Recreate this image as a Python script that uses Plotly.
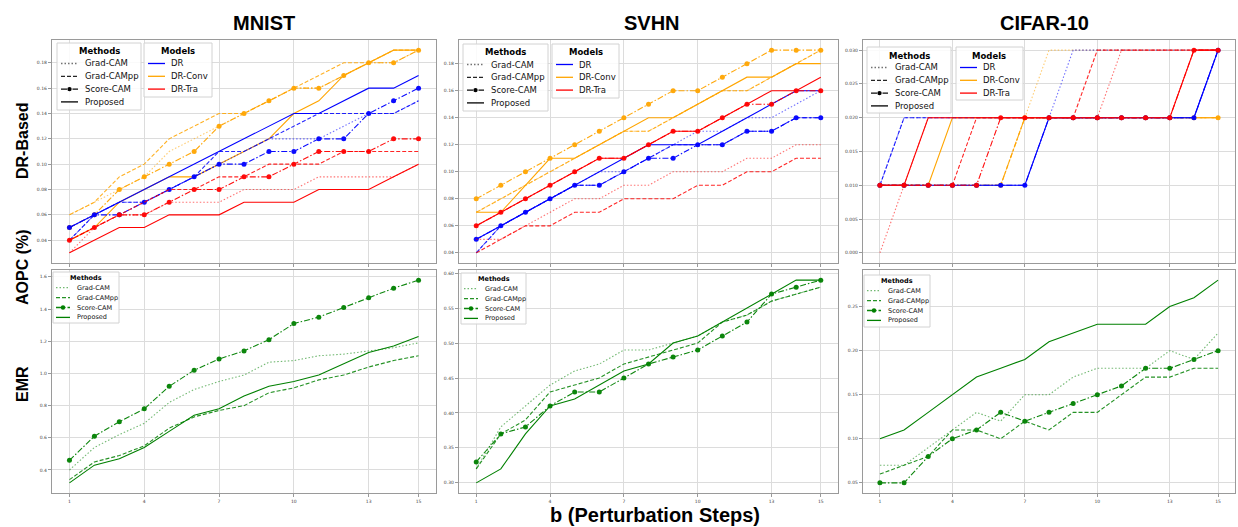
import plotly.graph_objects as go

W, H = 1238, 527

# ---------------- data ----------------
steps = list(range(1, 16))
x_tick_vals = [1, 4, 7, 10, 13, 15]
datasets = ["MNIST", "SVHN", "CIFAR-10"]
methods = ["Grad-CAM", "Grad-CAMpp", "Score-CAM", "Proposed"]
models = ["DR", "DR-Conv", "DR-Tra"]
row_labels = ["DR-Based", "AOPC (%)", "EMR"]
x_title = "b (Perturbation Steps)"

# AOPC of DR-based models (top row)
mnist_dr_gradcam = [0.04, 0.06, 0.07, 0.07, 0.08, 0.09, 0.10, 0.11, 0.12, 0.12, 0.12, 0.13, 0.14, 0.14, 0.15]
mnist_dr_gradcampp = [0.04, 0.06, 0.07, 0.07, 0.08, 0.09, 0.11, 0.11, 0.12, 0.13, 0.14, 0.14, 0.14, 0.14, 0.15]
mnist_dr_scorecam = [0.05, 0.06, 0.06, 0.07, 0.08, 0.09, 0.10, 0.10, 0.11, 0.11, 0.12, 0.12, 0.14, 0.15, 0.16]
mnist_dr_proposed = [0.05, 0.06, 0.07, 0.08, 0.09, 0.10, 0.11, 0.12, 0.13, 0.14, 0.14, 0.15, 0.16, 0.16, 0.17]
mnist_conv_gradcam = [0.06, 0.07, 0.08, 0.09, 0.11, 0.12, 0.13, 0.14, 0.15, 0.16, 0.16, 0.17, 0.18, 0.18, 0.19]
mnist_conv_gradcampp = [0.06, 0.07, 0.09, 0.10, 0.12, 0.13, 0.14, 0.14, 0.15, 0.16, 0.17, 0.18, 0.18, 0.19, 0.19]
mnist_conv_scorecam = [0.05, 0.06, 0.08, 0.09, 0.10, 0.11, 0.13, 0.14, 0.15, 0.16, 0.16, 0.17, 0.18, 0.18, 0.19]
mnist_conv_proposed = [0.04, 0.05, 0.07, 0.08, 0.09, 0.09, 0.10, 0.11, 0.12, 0.14, 0.15, 0.17, 0.18, 0.19, 0.19]
mnist_tra_gradcam = [0.03, 0.05, 0.06, 0.06, 0.07, 0.07, 0.07, 0.08, 0.08, 0.08, 0.09, 0.09, 0.09, 0.09, 0.10]
mnist_tra_gradcampp = [0.04, 0.05, 0.06, 0.07, 0.08, 0.08, 0.09, 0.09, 0.10, 0.10, 0.10, 0.11, 0.11, 0.11, 0.11]
mnist_tra_scorecam = [0.04, 0.05, 0.06, 0.06, 0.07, 0.08, 0.08, 0.09, 0.09, 0.10, 0.11, 0.11, 0.11, 0.12, 0.12]
mnist_tra_proposed = [0.03, 0.04, 0.05, 0.05, 0.06, 0.06, 0.06, 0.07, 0.07, 0.07, 0.08, 0.08, 0.08, 0.09, 0.10]

svhn_dr_gradcam = [0.04, 0.06, 0.07, 0.08, 0.09, 0.10, 0.10, 0.11, 0.12, 0.13, 0.13, 0.14, 0.14, 0.15, 0.16]
svhn_dr_gradcampp = [0.04, 0.06, 0.07, 0.08, 0.09, 0.09, 0.10, 0.11, 0.12, 0.12, 0.12, 0.13, 0.13, 0.14, 0.14]
svhn_dr_scorecam = [0.05, 0.06, 0.07, 0.08, 0.09, 0.09, 0.10, 0.11, 0.11, 0.12, 0.12, 0.13, 0.13, 0.14, 0.14]
svhn_dr_proposed = [0.05, 0.06, 0.07, 0.08, 0.09, 0.10, 0.11, 0.12, 0.12, 0.12, 0.13, 0.14, 0.15, 0.16, 0.16]
svhn_conv_gradcam = [0.07, 0.08, 0.09, 0.10, 0.11, 0.12, 0.13, 0.13, 0.14, 0.15, 0.16, 0.16, 0.17, 0.18, 0.19]
svhn_conv_gradcampp = [0.07, 0.08, 0.09, 0.10, 0.11, 0.12, 0.13, 0.13, 0.14, 0.15, 0.16, 0.16, 0.17, 0.18, 0.19]
svhn_conv_scorecam = [0.08, 0.09, 0.10, 0.11, 0.12, 0.13, 0.14, 0.15, 0.16, 0.16, 0.17, 0.18, 0.19, 0.19, 0.19]
svhn_conv_proposed = [0.07, 0.07, 0.09, 0.11, 0.11, 0.12, 0.13, 0.14, 0.14, 0.15, 0.16, 0.17, 0.17, 0.18, 0.18]
svhn_tra_gradcam = [0.05, 0.05, 0.06, 0.07, 0.08, 0.08, 0.09, 0.09, 0.10, 0.10, 0.10, 0.11, 0.11, 0.12, 0.12]
svhn_tra_gradcampp = [0.04, 0.05, 0.06, 0.06, 0.07, 0.07, 0.08, 0.08, 0.08, 0.09, 0.09, 0.10, 0.10, 0.11, 0.11]
svhn_tra_scorecam = [0.06, 0.07, 0.08, 0.09, 0.10, 0.11, 0.11, 0.12, 0.13, 0.13, 0.14, 0.15, 0.15, 0.16, 0.16]
svhn_tra_proposed = [0.06, 0.07, 0.08, 0.09, 0.10, 0.11, 0.11, 0.12, 0.13, 0.13, 0.14, 0.15, 0.16, 0.16, 0.17]

cifar_dr_gradcam = [0.01, 0.02, 0.02, 0.02, 0.02, 0.02, 0.02, 0.02, 0.03, 0.03, 0.03, 0.03, 0.03, 0.03, 0.03]
cifar_dr_gradcampp = [0.01, 0.02, 0.02, 0.02, 0.02, 0.02, 0.02, 0.02, 0.02, 0.02, 0.02, 0.02, 0.02, 0.02, 0.03]
cifar_dr_scorecam = [0.01, 0.01, 0.01, 0.01, 0.01, 0.01, 0.01, 0.02, 0.02, 0.02, 0.02, 0.02, 0.02, 0.02, 0.03]
cifar_dr_proposed = [0.01, 0.01, 0.01, 0.01, 0.01, 0.01, 0.01, 0.02, 0.02, 0.02, 0.02, 0.02, 0.02, 0.02, 0.03]
cifar_conv_gradcam = [0.01, 0.01, 0.01, 0.01, 0.01, 0.01, 0.02, 0.03, 0.03, 0.03, 0.03, 0.03, 0.03, 0.03, 0.03]
cifar_conv_gradcampp = [0.01, 0.01, 0.01, 0.01, 0.01, 0.01, 0.02, 0.02, 0.02, 0.02, 0.02, 0.02, 0.02, 0.02, 0.02]
cifar_conv_scorecam = [0.01, 0.01, 0.01, 0.01, 0.01, 0.01, 0.02, 0.02, 0.02, 0.02, 0.02, 0.02, 0.02, 0.02, 0.02]
cifar_conv_proposed = [0.01, 0.01, 0.01, 0.02, 0.02, 0.02, 0.02, 0.02, 0.02, 0.02, 0.02, 0.02, 0.02, 0.02, 0.02]
cifar_tra_gradcam = [0.00, 0.01, 0.02, 0.02, 0.02, 0.02, 0.02, 0.02, 0.02, 0.02, 0.03, 0.03, 0.03, 0.03, 0.03]
cifar_tra_gradcampp = [0.01, 0.01, 0.01, 0.01, 0.02, 0.02, 0.02, 0.02, 0.02, 0.03, 0.03, 0.03, 0.03, 0.03, 0.03]
cifar_tra_scorecam = [0.01, 0.01, 0.01, 0.01, 0.01, 0.02, 0.02, 0.02, 0.02, 0.02, 0.02, 0.02, 0.02, 0.03, 0.03]
cifar_tra_proposed = [0.01, 0.01, 0.02, 0.02, 0.02, 0.02, 0.02, 0.02, 0.02, 0.02, 0.02, 0.02, 0.02, 0.03, 0.03]

# EMR (bottom row)
mnist_emr_gradcam = [0.40, 0.54, 0.62, 0.69, 0.82, 0.90, 0.95, 0.99, 1.07, 1.08, 1.11, 1.12, 1.14, 1.16, 1.19]
mnist_emr_gradcampp = [0.34, 0.45, 0.49, 0.55, 0.66, 0.73, 0.77, 0.80, 0.88, 0.91, 0.96, 0.99, 1.04, 1.08, 1.11]
mnist_emr_scorecam = [0.46, 0.61, 0.70, 0.78, 0.92, 1.02, 1.09, 1.14, 1.21, 1.31, 1.35, 1.41, 1.47, 1.53, 1.58]
mnist_emr_proposed = [0.32, 0.43, 0.47, 0.54, 0.64, 0.74, 0.78, 0.86, 0.92, 0.95, 0.99, 1.06, 1.13, 1.17, 1.23]
svhn_emr_gradcam = [0.32, 0.38, 0.41, 0.44, 0.46, 0.47, 0.49, 0.49, 0.50, 0.51, 0.53, 0.54, 0.56, 0.57, 0.58]
svhn_emr_gradcampp = [0.32, 0.37, 0.39, 0.43, 0.44, 0.45, 0.47, 0.48, 0.49, 0.50, 0.53, 0.54, 0.56, 0.57, 0.58]
svhn_emr_scorecam = [0.33, 0.37, 0.38, 0.41, 0.43, 0.43, 0.45, 0.47, 0.48, 0.49, 0.51, 0.53, 0.57, 0.58, 0.59]
svhn_emr_proposed = [0.30, 0.32, 0.37, 0.41, 0.42, 0.44, 0.46, 0.47, 0.50, 0.51, 0.53, 0.55, 0.57, 0.59, 0.59]
cifar_emr_gradcam = [0.07, 0.07, 0.09, 0.11, 0.13, 0.12, 0.15, 0.15, 0.17, 0.18, 0.18, 0.18, 0.20, 0.19, 0.22]
cifar_emr_gradcampp = [0.06, 0.07, 0.08, 0.11, 0.11, 0.10, 0.12, 0.11, 0.13, 0.13, 0.15, 0.17, 0.17, 0.18, 0.18]
cifar_emr_scorecam = [0.05, 0.05, 0.08, 0.10, 0.11, 0.13, 0.12, 0.13, 0.14, 0.15, 0.16, 0.18, 0.18, 0.19, 0.20]
cifar_emr_proposed = [0.10, 0.11, 0.13, 0.15, 0.17, 0.18, 0.19, 0.21, 0.22, 0.23, 0.23, 0.23, 0.25, 0.26, 0.28]

aopc = {
    "MNIST": {
        "DR": [mnist_dr_gradcam, mnist_dr_gradcampp, mnist_dr_scorecam, mnist_dr_proposed],
        "DR-Conv": [mnist_conv_gradcam, mnist_conv_gradcampp, mnist_conv_scorecam, mnist_conv_proposed],
        "DR-Tra": [mnist_tra_gradcam, mnist_tra_gradcampp, mnist_tra_scorecam, mnist_tra_proposed],
    },
    "SVHN": {
        "DR": [svhn_dr_gradcam, svhn_dr_gradcampp, svhn_dr_scorecam, svhn_dr_proposed],
        "DR-Conv": [svhn_conv_gradcam, svhn_conv_gradcampp, svhn_conv_scorecam, svhn_conv_proposed],
        "DR-Tra": [svhn_tra_gradcam, svhn_tra_gradcampp, svhn_tra_scorecam, svhn_tra_proposed],
    },
    "CIFAR-10": {
        "DR": [cifar_dr_gradcam, cifar_dr_gradcampp, cifar_dr_scorecam, cifar_dr_proposed],
        "DR-Conv": [cifar_conv_gradcam, cifar_conv_gradcampp, cifar_conv_scorecam, cifar_conv_proposed],
        "DR-Tra": [cifar_tra_gradcam, cifar_tra_gradcampp, cifar_tra_scorecam, cifar_tra_proposed],
    },
}
emr = {
    "MNIST": [mnist_emr_gradcam, mnist_emr_gradcampp, mnist_emr_scorecam, mnist_emr_proposed],
    "SVHN": [svhn_emr_gradcam, svhn_emr_gradcampp, svhn_emr_scorecam, svhn_emr_proposed],
    "CIFAR-10": [cifar_emr_gradcam, cifar_emr_gradcampp, cifar_emr_scorecam, cifar_emr_proposed],
}

# ---------------- styles / layout ----------------
COLORS = {"DR": "#0000ff", "DR-Conv": "#ffa500", "DR-Tra": "#ff0000"}
GREEN = "#008000"
DASH = {"Grad-CAM": "1.5px,2px", "Grad-CAMpp": "4px,2px",
        "Score-CAM": "6px,2px,1.5px,2px", "Proposed": "solid"}
ALPHA = {"Grad-CAM": 0.55, "Grad-CAMpp": 0.85, "Score-CAM": 0.95, "Proposed": 1.0}
TOP_DTICK = {"MNIST": (0.02, ".2f"), "SVHN": (0.02, ".2f"), "CIFAR-10": (0.005, ".3f")}
BOT_DTICK = {"MNIST": (0.2, ".1f"), "SVHN": (0.05, ".2f"), "CIFAR-10": (0.05, ".2f")}
COL_X = [(52, 436), (459, 838), (863, 1235)]
ROW_Y = [(40, 263), (270, 493)]
TITLE_X = [264, 652, 1044]


def px(x):
    return x / W


def py(y):
    return 1 - y / H


def padded(series_list):
    lo = min(min(s) for s in series_list)
    hi = max(max(s) for s in series_list)
    pad = (hi - lo) * 0.05
    return [lo - pad, hi + pad]


fig = go.Figure()
layout = dict(width=W, height=H, margin=dict(l=0, r=0, t=0, b=0),
              plot_bgcolor="white", paper_bgcolor="white", showlegend=False)

GRID = "#dcdcdc"
FRAME = "#9a9a9a"
TICKFONT = dict(size=4.5, color="#444444", family="DejaVu Sans")

for r in range(2):
    for c, ds in enumerate(datasets):
        n = r * 3 + c + 1
        xa = "x" if n == 1 else f"x{n}"
        ya = "y" if n == 1 else f"y{n}"
        if r == 0:
            draw_order = ["DR-Conv", "DR", "DR-Tra"]
            all_series = []
            for model in draw_order:
                for mi, method in enumerate(methods):
                    vals = aopc[ds][model][mi]
                    all_series.append(vals)
                    sc = method == "Score-CAM"
                    fig.add_trace(go.Scatter(
                        x=steps, y=vals, xaxis=xa, yaxis=ya,
                        mode="lines+markers" if sc else "lines",
                        line=dict(color=COLORS[model], width=1.1, dash=DASH[method]),
                        marker=dict(size=5, color=COLORS[model]),
                        opacity=ALPHA[method], name=f"{model} {method}",
                        showlegend=False))
            dt, fmt = TOP_DTICK[ds]
        else:
            all_series = emr[ds]
            for mi, method in enumerate(methods):
                sc = method == "Score-CAM"
                fig.add_trace(go.Scatter(
                    x=steps, y=emr[ds][mi], xaxis=xa, yaxis=ya,
                    mode="lines+markers" if sc else "lines",
                    line=dict(color=GREEN, width=1.1, dash=DASH[method]),
                    marker=dict(size=5, color=GREEN),
                    opacity=ALPHA[method], name=method, showlegend=False))
            dt, fmt = BOT_DTICK[ds]

        x0, x1 = COL_X[c]
        y0, y1 = ROW_Y[r]
        layout["xaxis" if n == 1 else f"xaxis{n}"] = dict(
            domain=[px(x0), px(x1)], anchor=ya,
            range=[steps[0] - 0.7, steps[-1] + 0.7],
            tickmode="array", tickvals=x_tick_vals,
            showticklabels=(r == 1), tickfont=TICKFONT,
            showgrid=True, gridcolor=GRID, gridwidth=1, zeroline=False,
            showline=True, mirror=True, linecolor=FRAME, linewidth=1.4,
            ticks="outside", ticklen=3, tickcolor=FRAME)
        layout["yaxis" if n == 1 else f"yaxis{n}"] = dict(
            domain=[py(y1), py(y0)], anchor=xa,
            range=padded(all_series), tick0=0, dtick=dt, tickformat=fmt,
            tickfont=TICKFONT,
            showgrid=True, gridcolor=GRID, gridwidth=1, zeroline=False,
            showline=True, mirror=True, linecolor=FRAME, linewidth=1.4,
            ticks="outside", ticklen=3, tickcolor=FRAME)

fig.update_layout(**layout)

# ---------------- hand-drawn legends ----------------
shapes = []
annotations = []


def draw_legend(box, title, labels, colors, dashes, alphas, markers, fsize,
                title_dy, first_dy, step_dy, s0, s1, tx):
    bx0, by0, bx1, by1 = box
    shapes.append(dict(type="rect", xref="paper", yref="paper",
                       x0=px(bx0), x1=px(bx1), y0=py(by1), y1=py(by0),
                       line=dict(color="#d2d2d2", width=1),
                       fillcolor="rgba(255,255,255,0.85)", layer="above"))
    annotations.append(dict(x=px((bx0 + bx1) / 2), y=py(by0 + title_dy),
                            xref="paper", yref="paper", showarrow=False,
                            text=f"<b>{title}</b>", xanchor="center", yanchor="middle",
                            font=dict(size=fsize, color="black", family="DejaVu Sans")))
    for i, lab in enumerate(labels):
        yy = by0 + first_dy + i * step_dy
        shapes.append(dict(type="line", xref="paper", yref="paper",
                           x0=px(bx0 + s0), x1=px(bx0 + s1), y0=py(yy), y1=py(yy),
                           line=dict(color=colors[i], width=1.3, dash=dashes[i]),
                           opacity=alphas[i], layer="above"))
        if markers[i]:
            xm = bx0 + (s0 + s1) / 2
            rr = 2.2
            shapes.append(dict(type="circle", xref="paper", yref="paper",
                               x0=px(xm - rr), x1=px(xm + rr), y0=py(yy + rr), y1=py(yy - rr),
                               line=dict(color=colors[i], width=0), fillcolor=colors[i],
                               layer="above"))
        annotations.append(dict(x=px(bx0 + tx), y=py(yy), xref="paper", yref="paper",
                                showarrow=False, text=lab, xanchor="left", yanchor="middle",
                                font=dict(size=fsize, color="#111111", family="DejaVu Sans")))


TOP_METHOD_BOX = [(57, 43, 141, 110), (463, 44, 548, 111), (867, 47, 951, 113)]
TOP_MODEL_BOX = [(144, 43, 212, 97), (552, 44, 619, 98), (956, 47, 1023, 100)]
BOT_METHOD_BOX = [(53, 272, 119, 323), (461, 273, 526, 324), (864, 275, 930, 327)]

method_dashes = [DASH[m] for m in methods]
method_alphas = [ALPHA[m] for m in methods]
method_markers = [m == "Score-CAM" for m in methods]

for c in range(3):
    draw_legend(TOP_METHOD_BOX[c], "Methods", methods, ["black"] * 4, method_dashes,
                method_alphas, method_markers, 8.5, 8.5, 20.5, 12.8, 4, 21, 26)
    draw_legend(TOP_MODEL_BOX[c], "Models", models, [COLORS[m] for m in models],
                ["solid"] * 3, [1.0] * 3, [False] * 3, 8.5, 8.5, 20.5, 12.8, 4, 21, 24.5)
    draw_legend(BOT_METHOD_BOX[c], "Methods", methods, [GREEN] * 4, method_dashes,
                method_alphas, method_markers, 6.5, 6, 15.7, 9.9, 3, 17, 22)

# ---------------- titles and labels ----------------
TITLE_FONT = dict(size=20, color="black", family="Liberation Sans")
for c, ds in enumerate(datasets):
    annotations.append(dict(x=px(TITLE_X[c]), y=py(23), xref="paper", yref="paper",
                            showarrow=False, text=f"<b>{ds}</b>", xanchor="center",
                            yanchor="middle", font=TITLE_FONT))

for lab, yc in zip(row_labels, [141, 267, 384]):
    annotations.append(dict(x=px(22), y=py(yc), xref="paper", yref="paper",
                            showarrow=False, text=f"<b>{lab}</b>", textangle=-90,
                            xanchor="center", yanchor="middle",
                            font=dict(size=16, color="black", family="Liberation Sans")))

annotations.append(dict(x=px(655), y=py(515), xref="paper", yref="paper",
                        showarrow=False, text=f"<b>{x_title}</b>", xanchor="center",
                        yanchor="middle", font=TITLE_FONT))

fig.update_layout(shapes=shapes, annotations=annotations)
fig.write_html("out.html")
